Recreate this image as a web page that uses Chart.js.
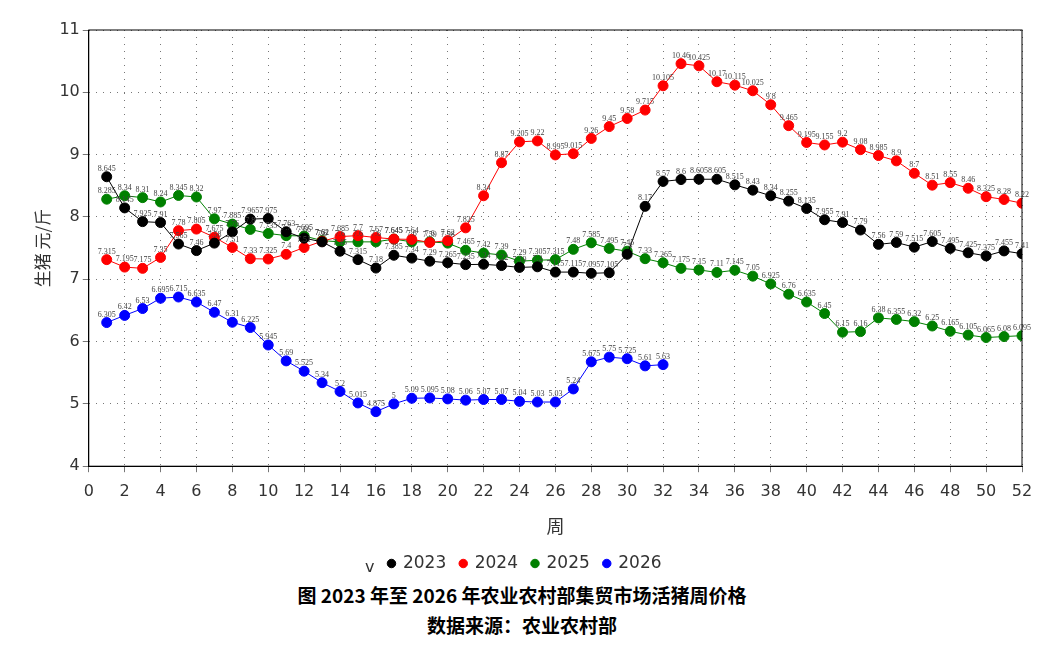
<!DOCTYPE html>
<html>
<head>
<meta charset="utf-8">
<script src="https://cdn.jsdelivr.net/npm/chart.js@4"></script>
<style>
body { margin: 0; background: #fff; font-family: "Noto Sans CJK SC", sans-serif; }
#wrap { position: relative; width: 1044px; height: 582px; }
.cap { text-align: center; font-weight: bold; font-size: 19px; color: #000; line-height: 30px; font-family: "Noto Sans CJK SC"; }
</style>
</head>
<body>
<div id="wrap"><canvas id="c"></canvas></div>
<div class="cap" style="margin-top:-2px">图 2023 年至 2026 年农业农村部集贸市场活猪周价格</div>
<div class="cap">数据来源：农业农村部</div>
<script>
const weeks = Array.from({length: 52}, (_, i) => i + 1);

const p2023 = [8.645, 8.145, 7.925, 7.91, 7.565, 7.46, 7.58, 7.76, 7.965, 7.975, 7.763, 7.66, 7.6, 7.45, 7.315, 7.18, 7.385, 7.34, 7.29, 7.265, 7.235, 7.24, 7.22, 7.19, 7.2, 7.115, 7.115, 7.095, 7.105, 7.4, 8.17, 8.57, 8.6, 8.605, 8.605, 8.515, 8.43, 8.34, 8.255, 8.135, 7.955, 7.91, 7.79, 7.56, 7.59, 7.515, 7.605, 7.495, 7.425, 7.375, 7.455, 7.41];
const p2024 = [7.315, 7.195, 7.175, 7.35, 7.78, 7.805, 7.675, 7.51, 7.33, 7.325, 7.4, 7.51, 7.61, 7.685, 7.7, 7.67, 7.645, 7.64, 7.59, 7.62, 7.825, 8.34, 8.87, 9.205, 9.22, 8.995, 9.015, 9.26, 9.45, 9.58, 9.715, 10.105, 10.46, 10.425, 10.17, 10.115, 10.025, 9.8, 9.465, 9.195, 9.155, 9.2, 9.08, 8.985, 8.9, 8.7, 8.51, 8.55, 8.46, 8.325, 8.28, 8.22];
const p2025 = [8.285, 8.34, 8.31, 8.24, 8.345, 8.32, 7.97, 7.885, 7.8, 7.735, 7.7, 7.695, 7.62, 7.6, 7.6, 7.6, 7.645, 7.6, 7.6, 7.58, 7.465, 7.42, 7.39, 7.29, 7.305, 7.315, 7.48, 7.585, 7.495, 7.45, 7.33, 7.265, 7.175, 7.15, 7.11, 7.145, 7.05, 6.925, 6.76, 6.635, 6.45, 6.15, 6.16, 6.38, 6.355, 6.32, 6.25, 6.165, 6.105, 6.065, 6.08, 6.095];
const p2026 = [6.305, 6.42, 6.53, 6.695, 6.715, 6.635, 6.47, 6.31, 6.225, 5.945, 5.69, 5.525, 5.34, 5.2, 5.015, 4.875, 5, 5.09, 5.095, 5.08, 5.06, 5.07, 5.07, 5.04, 5.03, 5.03, 5.24, 5.675, 5.75, 5.725, 5.61, 5.63];

const years = ['2023', '2024', '2025', '2026'];
const colors = ['#000000', '#ff0000', '#008000', '#0000ff'];
const series = [p2023, p2024, p2025, p2026];

const datasets = series.map((vals, i) => ({
    label: years[i],
    data: vals.map((v, j) => ({x: weeks[j], y: v})),
    borderColor: colors[i],
    backgroundColor: colors[i],
    borderWidth: 1,
    pointRadius: 5,
    pointStyle: 'circle',
    tension: 0
}));

// small value labels above points, plus the "v" before the legend
const labelPlugin = {
    id: 'labels',
    afterDatasetsDraw(chart) {
        const ctx = chart.ctx;
        ctx.save();
        ctx.font = '8px "Liberation Serif"';
        ctx.fillStyle = '#444';
        ctx.textAlign = 'center';
        chart.data.datasets.forEach((ds, i) => {
            chart.getDatasetMeta(i).data.forEach((pt, j) => {
                ctx.fillText(String(ds.data[j].y), pt.x, pt.y - 8);
            });
        });
        const box = chart.legend.legendHitBoxes[0];
        ctx.font = '16px "DejaVu Sans"';
        ctx.fillStyle = '#333';
        ctx.textAlign = 'right';
        ctx.fillText('v', box.left - 14, box.top + 13);
        ctx.restore();
    }
};

const framePlugin = {
    id: 'frame',
    afterDraw(chart) {
        const a = chart.chartArea, ctx = chart.ctx;
        ctx.save();
        ctx.strokeStyle = '#000';
        ctx.lineWidth = 1;
        ctx.strokeRect(a.left, a.top, a.right - a.left, a.bottom - a.top);
        ctx.restore();
    }
};

new Chart(document.getElementById('c'), {
    type: 'line',
    data: { datasets },
    options: {
        responsive: true,
        maintainAspectRatio: false,
        animation: false,
        layout: { padding: { left: 28, right: 22, top: 30, bottom: 0 } },
        plugins: {
            legend: {
                position: 'bottom',
                labels: {
                    usePointStyle: true,
                    pointStyle: 'circle',
                    boxWidth: 6,
                    boxHeight: 6,
                    padding: 14,
                    color: '#333',
                    font: { size: 17, family: 'DejaVu Sans' }
                }
            },
            tooltip: { enabled: false }
        },
        scales: {
            x: {
                type: 'linear',
                min: 0, max: 52,
                ticks: { stepSize: 2, padding: 10, color: '#333', font: { size: 16, family: 'DejaVu Sans' } },
                grid: { color: '#777', tickLength: 6, lineWidth: 1 },
                border: { color: '#000', dash: [1, 6] },
                title: { display: true, text: '周', color: '#333', font: { size: 18, family: 'Noto Sans CJK SC' } }
            },
            y: {
                min: 4, max: 11,
                ticks: { stepSize: 1, color: '#333', font: { size: 16, family: 'DejaVu Sans' } },
                grid: { color: '#777', tickLength: 6 },
                border: { color: '#000', dash: [1, 6] },
                title: { display: true, text: '生猪 元/斤', color: '#333', font: { size: 17, family: 'Noto Sans CJK SC' } }
            }
        }
    },
    plugins: [labelPlugin, framePlugin]
});
</script>
</body>
</html>
